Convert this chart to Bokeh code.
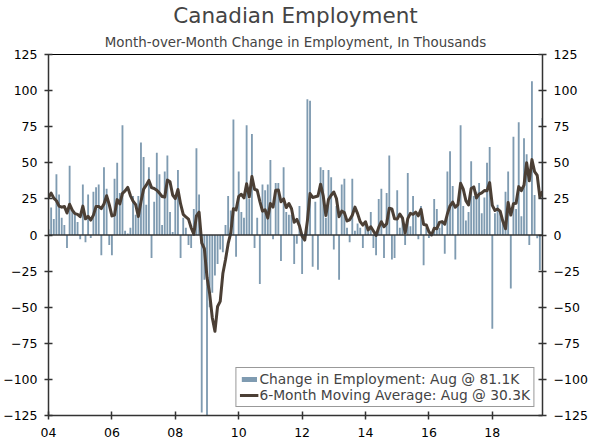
from bokeh.plotting import figure
from bokeh.models import (Range1d, LinearAxis, FixedTicker, Span, Legend, LegendItem,
                          Title, ColumnDataSource)
from bokeh.embed import file_html
from bokeh.resources import INLINE

start_year = 2004
change = [
    4, 19, 11, 42, 28, 12, 7, -9, 48, 17, 14, 9,
    -3, 35, -5, 28, -2, 30, 33, 35, -14, 47, 32, -7,
    -14, 39, 50, 29, 76, 3, 1, 5, 27, 14, 27, 64,
    54, 21, 47, -16, 23, 57, 42, 7, 44, 55, 16, 2,
    27, 45, -16, 12, 5, -7, -9, 18, 60, 28, -123, -31,
    -128, -50, -40, -28, -20, -10, -12, 7, 27, 17, 80, -15,
    44, 16, 12, 76, 25, 70, -9, 12, -34, 35, 31, 35,
    52, -3, 36, 36, -18, 47, 16, 14, 14, -20, -6, 20,
    -27, -2, 94, 93, -22, 23, -24, 47, 45, 12, 45, 40,
    -10, 20, -31, 35, 39, 5, -5, 39, 3, 8, 5, -9,
    9, 5, 16, -9, -14, 25, 32, -16, 29, 55, -17, -16,
    31, 5, 12, -7, 43, 6, 27, 14, -3, 20, -21, 5,
    -2, 1, 25, 18, 5, 9, -13, 44, 58, 34, -17, 20,
    76, 20, 10, 16, 51, 27, 30, 36, 15, 26, 50, 61,
    -65, 15, 21, 16, 9, 30, 44, -37, 68, 18, 78, 13,
    67, 56, -7, 106.5, 27.7, -2.2, -24.2, 81.1,
]
ma6 = [
    26.0, 29.0, 25.5, 23.7, 20.0, 19.3, 19.8, 15.2, 21.3, 17.2, 14.8, 14.3,
    12.7, 20.0, 11.2, 13.0, 10.3, 13.8, 19.8, 19.8, 18.3, 21.5, 27.2, 21.0,
    13.2, 13.8, 24.5, 21.5, 28.8, 30.5, 33.0, 27.3, 23.5, 21.0, 12.8, 23.0,
    31.8, 34.5, 37.8, 32.8, 32.2, 31.0, 29.0, 26.7, 26.2, 38.0, 36.8, 27.7,
    25.2, 31.5, 21.5, 14.3, 12.5, 11.0, 5.0, 0.5, 13.2, 15.8, -5.5, -9.5,
    -29.3, -40.7, -57.3, -66.7, -49.5, -46.0, -26.7, -17.2, -6.0, 1.5, 18.2, 17.3,
    26.7, 28.2, 25.7, 35.5, 26.3, 40.5, 31.7, 31.0, 23.3, 16.5, 17.5, 11.7,
    21.8, 19.3, 31.0, 31.2, 23.0, 25.0, 19.0, 21.8, 18.2, 8.8, 10.8, 6.3,
    -0.8, -3.5, 9.8, 28.7, 26.0, 26.5, 27.0, 35.2, 27.0, 13.5, 24.7, 27.5,
    29.8, 25.3, 12.7, 16.5, 15.5, 9.7, 10.5, 13.7, 19.3, 14.8, 9.2, 6.8,
    9.2, 3.5, 5.7, 2.8, -0.3, 5.3, 9.2, 5.7, 7.8, 18.5, 18.0, 11.2,
    11.0, 14.5, 11.7, 1.3, 11.3, 15.0, 14.3, 15.8, 13.3, 17.8, 7.2, 7.0,
    2.2, 0.0, 4.7, 4.3, 8.7, 9.3, 7.5, 14.7, 20.2, 22.8, 19.2, 21.0,
    35.8, 31.8, 23.8, 20.8, 32.2, 33.3, 25.7, 28.3, 29.2, 30.8, 30.7, 36.3,
    20.5, 17.0, 18.0, 16.3, 9.5, 4.3, 22.5, 13.8, 21.7, 22.0, 33.5, 30.7,
    34.5, 50.0, 37.5, 52.2, 43.9, 41.3, 26.1, 30.3,
]

year_ticks = [2004, 2006, 2008, 2010, 2012, 2014, 2016, 2018]
year_labels = ["04", "06", "08", "10", "12", "14", "16", "18"]
y_ticks = [-125, -100, -75, -50, -25, 0, 25, 50, 75, 100, 125]

x = [start_year + i / 12 for i in range(len(change))]
src = ColumnDataSource(dict(x=x, change=change, ma=ma6))

FONT = "DejaVu Sans"
p = figure(width=590, height=445, output_backend="svg", toolbar_location=None,
           x_range=Range1d(x[0], x[-1]), y_range=Range1d(-125, 125),
           min_border_left=46, min_border_right=45, min_border_top=53,
           min_border_bottom=30)
p.title.text = "Canadian Employment"
p.title.align = "center"
p.title.text_font = FONT
p.title.text_font_size = "21.5px"
p.title.text_font_style = "normal"
p.title.standoff = 0
p.add_layout(Title(text="Month-over-Month Change in Employment, In Thousands",
                   align="center", text_font=FONT, text_font_size="13.4px",
                   text_font_style="normal", standoff=10), "above")

p.xgrid.visible = False
p.ygrid.visible = False
p.outline_line_color = "black"
p.outline_line_width = 1

bars = p.vbar(x="x", top="change", bottom=0, width=0.7 / 12, source=src,
              fill_color="#7f9bb1", line_color=None)
p.add_layout(Span(location=0, dimension="width", line_color="#333333", line_width=1.5))
line = p.line("x", "ma", source=src, line_color="#4b3f35", line_width=3, line_join="round")

p.xaxis.ticker = FixedTicker(ticks=year_ticks)
p.xaxis.major_label_overrides = {t: l for t, l in zip(year_ticks, year_labels)}
p.yaxis.ticker = FixedTicker(ticks=y_ticks)
p.add_layout(LinearAxis(ticker=FixedTicker(ticks=y_ticks)), "right")

for ax in p.axis:
    ax.axis_line_color = "#333333"
    ax.axis_line_width = 1.5
    ax.major_tick_line_color = "#333333"
    ax.major_tick_line_width = 1.5
    ax.major_tick_in = 4
    ax.major_tick_out = 4
    ax.minor_tick_line_color = None
    ax.major_label_text_font = FONT
    ax.major_label_text_font_size = "12.5px"
    ax.major_label_text_color = "black"
    ax.major_label_standoff = 7
p.xaxis.major_label_standoff = 8

legend = Legend(items=[
    LegendItem(label="Change in Employment: Aug @ 81.1K", renderers=[bars]),
    LegendItem(label="6-Month Moving Average: Aug @ 30.3K", renderers=[line]),
], location="bottom_right")
legend.border_line_color = "#333333"
legend.border_line_width = 1
legend.background_fill_color = "white"
legend.background_fill_alpha = 1
legend.margin = 8
legend.padding = 3
legend.spacing = 0
legend.label_text_font = FONT
legend.label_text_font_size = "13.8px"
legend.label_standoff = 1
legend.glyph_width = 19
legend.glyph_height = 6
legend.label_height = 16
p.add_layout(legend)

open("out.html", "w").write(file_html(p, INLINE))
